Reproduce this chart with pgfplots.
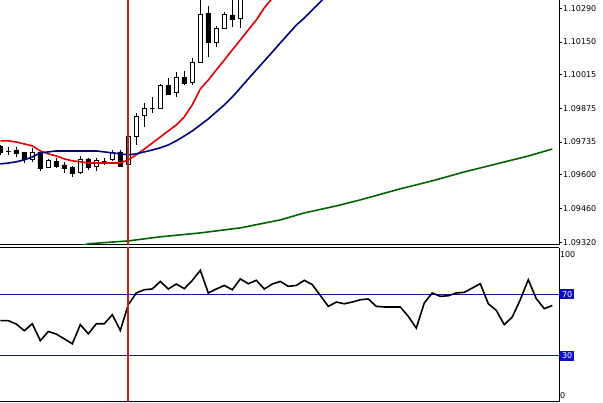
\documentclass[border=0pt]{standalone}
\usepackage{pgfplots}
\pgfplotsset{compat=1.18}
\usepackage{fontspec}
\setmainfont{DejaVu Sans}
\definecolor{mared}{RGB}{225,0,0}
\definecolor{manavy}{RGB}{0,0,128}
\definecolor{magreen}{RGB}{0,100,0}
\definecolor{vred}{RGB}{200,30,30}
\definecolor{lvlblue}{RGB}{20,20,160}
\definecolor{lblblue}{RGB}{15,15,200}
% index, left edge, right edge, low, body bottom, body top, high, fill
\newcommand{\candle}[8]{%
  \addplot[black, line width=0.8pt] coordinates {(#1,#4)(#1,#7)};
  \addplot[draw=black, fill=#8, line width=0.8pt, line join=miter] coordinates {(#2,#5)(#3,#5)(#3,#6)(#2,#6)(#2,#5)};}
\newcommand{\hl}[1]{{\setlength{\fboxsep}{2pt}\colorbox{lblblue}{\textcolor{white}{#1}}}}
\begin{document}
\begin{tikzpicture}
\useasboundingbox (0,0) rectangle (603pt,-403pt);
% ---------------- price panel ----------------
\begin{axis}[
  at={(0pt,0pt)}, anchor=north west, scale only axis,
  width=559pt, height=245pt,
  xmin=-0.04, xmax=69.84, ymin=1.09308, ymax=1.10324,
  axis x line*=bottom, axis y line*=right,
  axis line style={line width=1pt, black},
  xtick=\empty,
  ytick={1.0932,1.0946,1.0960,1.09735,1.09875,1.10015,1.1015,1.1029},
  yticklabels={1.09320,1.09460,1.09600,1.09735,1.09875,1.10015,1.10150,1.10290},
  tick align=outside, major tick length=3pt,
  tick style={black, line width=0.8pt},
  yticklabel style={font=\fontsize{8}{9}\selectfont, anchor=west, inner sep=1pt},
  clip=true,
]
\candle{0}{-0.3}{0.3}{1.09682}{1.09694}{1.09715}{1.09723}{black}
\candle{1}{0.7}{1.3}{1.09682}{1.09698}{1.09698}{1.09715}{white}
\candle{2}{1.7}{2.3}{1.09673}{1.09686}{1.09702}{1.09715}{black}
\candle{3}{2.7}{3.3}{1.09648}{1.09665}{1.09690}{1.09694}{black}
\candle{4}{3.7}{4.3}{1.09653}{1.09665}{1.09690}{1.09711}{white}
\candle{5}{4.7}{5.3}{1.09615}{1.09624}{1.09694}{1.09702}{black}
\candle{6}{5.7}{6.3}{1.09628}{1.09628}{1.09657}{1.09665}{white}
\candle{7}{6.7}{7.3}{1.09628}{1.09636}{1.09653}{1.09669}{black}
\candle{8}{7.7}{8.3}{1.09607}{1.09624}{1.09640}{1.09653}{black}
\candle{9}{8.7}{9.3}{1.09590}{1.09603}{1.09628}{1.09636}{black}
\candle{10}{9.7}{10.3}{1.09603}{1.09607}{1.09661}{1.09677}{white}
\candle{11}{10.7}{11.3}{1.09619}{1.09628}{1.09665}{1.09669}{black}
\candle{12}{11.7}{12.3}{1.09615}{1.09632}{1.09657}{1.09669}{white}
\candle{13}{12.7}{13.3}{1.09640}{1.09653}{1.09653}{1.09669}{white}
\candle{14}{13.7}{14.3}{1.09657}{1.09661}{1.09694}{1.09702}{white}
\candle{15}{14.7}{15.3}{1.09632}{1.09636}{1.09694}{1.09702}{black}
\candle{16}{15.7}{16.3}{1.09640}{1.09644}{1.09760}{1.09764}{white}
\candle{17}{16.7}{17.3}{1.09723}{1.09760}{1.09843}{1.09856}{white}
\candle{18}{17.7}{18.3}{1.09798}{1.09847}{1.09876}{1.09897}{white}
\candle{19}{18.7}{19.3}{1.09856}{1.09876}{1.09876}{1.09922}{white}
\candle{20}{19.7}{20.3}{1.09876}{1.09876}{1.09968}{1.09976}{white}
\candle{21}{20.7}{21.3}{1.09930}{1.09934}{1.09968}{1.10001}{black}
\candle{22}{21.7}{22.3}{1.09922}{1.09939}{1.10001}{1.10026}{white}
\candle{23}{22.7}{23.3}{1.09972}{1.09980}{1.10001}{1.10030}{black}
\candle{24}{23.7}{24.3}{1.09972}{1.09984}{1.10067}{1.10084}{white}
\candle{25}{24.7}{25.3}{1.10067}{1.10067}{1.10266}{1.10345}{white}
\candle{26}{25.7}{26.3}{1.10088}{1.10150}{1.10270}{1.10299}{black}
\candle{27}{26.7}{27.3}{1.10129}{1.10150}{1.10208}{1.10216}{white}
\candle{28}{27.7}{28.3}{1.10208}{1.10208}{1.10266}{1.10274}{white}
\candle{29}{28.7}{29.3}{1.10212}{1.10245}{1.10262}{1.10345}{black}
\candle{30}{29.7}{30.3}{1.10208}{1.10249}{1.10365}{1.10386}{white}
% fast MA (red)
\addplot[mared, line width=1.6pt] coordinates {
(0,1.09740)(1,1.09740)(2,1.09735)(3,1.09727)(4,1.09719)(5,1.09698)(6,1.09686)(7,1.09677)
(8,1.09665)(9,1.09657)(10,1.09653)(11,1.09648)(12,1.09648)(13,1.09648)(14,1.09648)(15,1.09648)
(16,1.09661)(17,1.09682)(18,1.09706)(19,1.09731)(20,1.09756)(21,1.09781)(22,1.09806)(23,1.09839)
(24,1.09889)(25,1.09955)(26,1.09992)(27,1.10034)(28,1.10075)(29,1.10117)(30,1.10158)(31,1.10200)
(32,1.10241)(33,1.10291)(34,1.10332)};
% medium MA (navy)
\addplot[manavy, line width=1.6pt] coordinates {
(0,1.09644)(1,1.09648)(2,1.09653)(3,1.09661)(4,1.09673)(5,1.09690)(6,1.09694)(7,1.09698)
(8,1.09698)(9,1.09698)(10,1.09698)(11,1.09698)(12,1.09698)(13,1.09694)(14,1.09690)(15,1.09686)
(16,1.09682)(17,1.09686)(18,1.09694)(19,1.09702)(20,1.09711)(21,1.09723)(22,1.09740)(23,1.09760)
(24,1.09781)(25,1.09806)(26,1.09831)(27,1.09860)(28,1.09889)(29,1.09922)(30,1.09959)(31,1.09997)
(32,1.10034)(33,1.10071)(34,1.10108)(35,1.10146)(36,1.10183)(37,1.10220)(38,1.10249)(39,1.10283)
(40,1.10316)(41,1.10349)};
% slow MA (green)
\addplot[magreen, line width=1.6pt] coordinates {
(10,1.09304)(11,1.09313)(16,1.09325)(20,1.09342)(25,1.09358)(30,1.09379)(35,1.09412)(38,1.09441)
(42,1.09470)(45,1.09495)(50,1.09541)(54,1.09574)(58,1.09611)(62,1.09644)(66,1.09677)(69,1.09706)};
% vertical line
\addplot[vred, line width=1.8pt, mark=square, mark size=2.5pt, mark indices={2}, mark options={line width=0.8pt}] coordinates {(16,1.0925)(16,1.09320)(16,1.1040)};
\end{axis}
% ---------------- RSI panel ----------------
\begin{axis}[
  at={(0pt,-248pt)}, anchor=north west, scale only axis,
  width=559pt, height=154pt,
  xmin=-0.04, xmax=69.84, ymin=0, ymax=100,
  axis x line*=box, axis y line*=right,
  axis line style={line width=1pt, black},
  xtick=\empty,
  ytick={30,70}, yticklabels={\hl{30},\hl{70}},
  extra y ticks={4,96}, extra y tick labels={0,100},
  tick align=outside, major tick length=0pt,
  tick style={black, line width=0.8pt},
  yticklabel style={font=\fontsize{8}{9}\selectfont, anchor=west, inner sep=0.8pt},
  clip=true,
]
\addplot[lvlblue, line width=0.9pt] coordinates {(-1,70)(71,70)};
\addplot[lvlblue, line width=0.9pt] coordinates {(-1,30)(71,30)};
\addplot[black, line width=1.6pt] coordinates {
(0,52.8)(1,52.8)(2,50.6)(3,46.3)(4,50.8)(5,39.8)(6,45.8)(7,44.1)(8,41.0)(9,37.8)
(10,50.2)(11,44.3)(12,50.8)(13,50.8)(14,56.7)(15,46.5)(16,63.2)(17,70.8)(18,72.9)(19,73.4)
(20,78.3)(21,73.4)(22,76.6)(23,73.6)(24,79.0)(25,85.5)(26,70.8)(27,73.4)(28,75.7)(29,72.9)
(30,79.9)(31,76.8)(32,79.0)(33,73.4)(34,76.6)(35,78.3)(36,75.1)(37,75.7)(38,79.0)(39,76.2)
(40,69.2)(41,62.1)(42,64.9)(43,63.8)(44,64.9)(45,66.4)(46,66.9)(47,62.1)(48,61.7)(49,61.7)
(50,61.7)(51,55.6)(52,48.0)(53,64.3)(54,70.8)(55,68.6)(56,69.0)(57,70.8)(58,71.2)(59,74.0)
(60,76.8)(61,63.8)(62,59.5)(63,50.2)(64,55.2)(65,66.4)(66,79.4)(67,67.1)(68,60.6)(69,62.7)};
\addplot[vred, line width=1.8pt] coordinates {(16,-5)(16,105)};
\end{axis}
\end{tikzpicture}
\end{document}
